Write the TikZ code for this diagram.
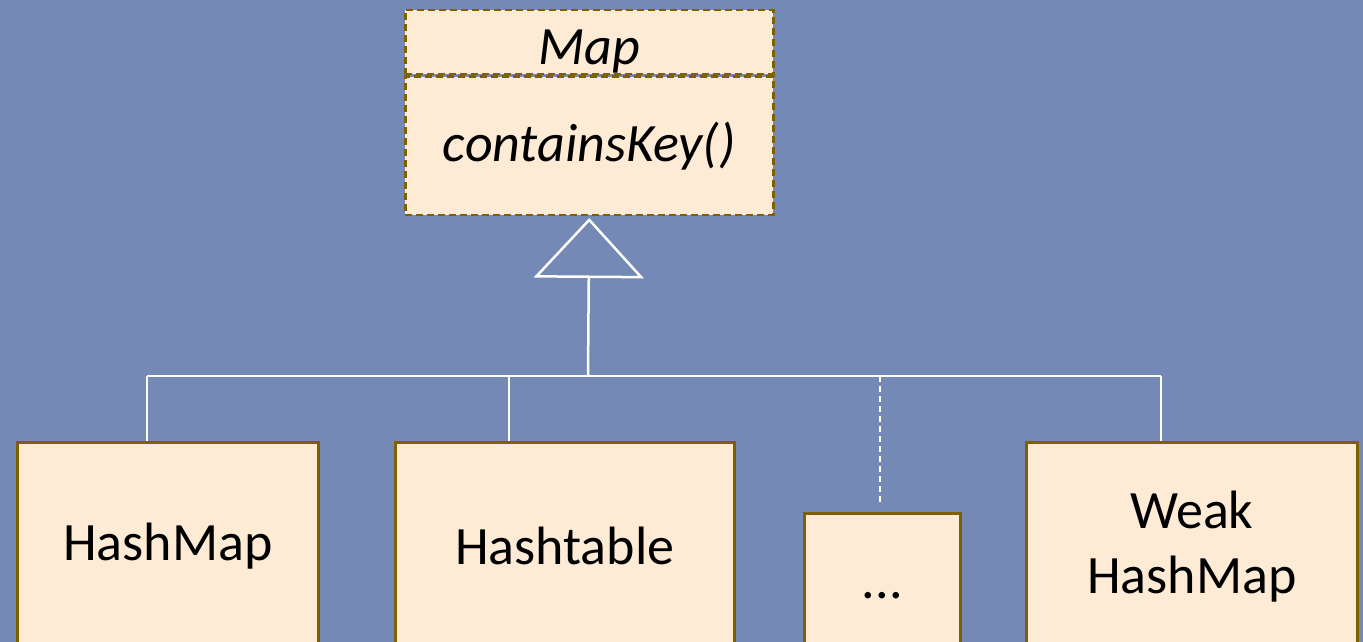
\documentclass[tikz,border=0pt]{standalone}
\usepackage{fontspec}
\setmainfont{Carlito}
\usepackage{xcolor}
\definecolor{fondo}{HTML}{7489B5}
\definecolor{relleno}{HTML}{FDEBD6}
\definecolor{borde}{HTML}{7F6000}
\usetikzlibrary{arrows.meta, positioning}

\begin{document}
\begin{tikzpicture}[
  x=1pt, y=-1pt,
  clase/.style={
    rectangle, draw=borde, fill=relleno, line width=2.5pt,
    font=\fontsize{54}{65}\selectfont, align=center,
    inner sep=0pt, anchor=north west
  },
  abstracta/.style={clase, dash pattern=on 7pt off 4pt},
  linea/.style={draw=white, line width=2.5pt},
  herencia/.style={linea, -{Triangle[open, length=60pt, width=110pt]}}
]
  \fill[fondo] (0,0) rectangle (1363,642);
  \clip (0,0) rectangle (1363,642);
  % interfaz
  \node[abstracta, minimum width=368pt, minimum height=64pt,
        text height=50pt, text depth=6pt] (mapnom) at (404,9) {\itshape Map};
  \node[abstracta, minimum width=368pt, minimum height=138pt, below=0pt of mapnom] (mapops) {\itshape containsKey()};
  % implementaciones
  \node[clase, minimum width=301pt, minimum height=208pt] (hashmap) at (16,441) {HashMap};
  \node[clase, minimum width=339pt, minimum height=208pt] (hashtable) at (394,441) {Hashtable};
  \node[clase, minimum width=156pt, minimum height=156pt,
        text height=14pt, text depth=0pt] (otras) at (803,512) {...};
  \node[clase, minimum width=331pt, minimum height=208pt] (weak) at (1025,441) {Weak\\HashMap};
  % conectores
  \coordinate (tronco) at (588,376);
  \coordinate (j1) at (147,376);
  \coordinate (j2) at (509,376);
  \coordinate (j3) at (880,376);
  \coordinate (j4) at (1161,376);
  \draw[herencia, shorten >=2pt] (tronco) -- (mapops.south);
  \draw[linea] (j1) -- (j4);
  \draw[linea] (j1) -- (j1 |- hashmap.north);
  \draw[linea] (j2) -- (j2 |- hashtable.north);
  \draw[linea, dash pattern=on 6pt off 4pt, shorten >=10pt] (j3) -- (j3 |- otras.north);
  \draw[linea] (j4) -- (j4 |- weak.north);
\end{tikzpicture}
\end{document}
